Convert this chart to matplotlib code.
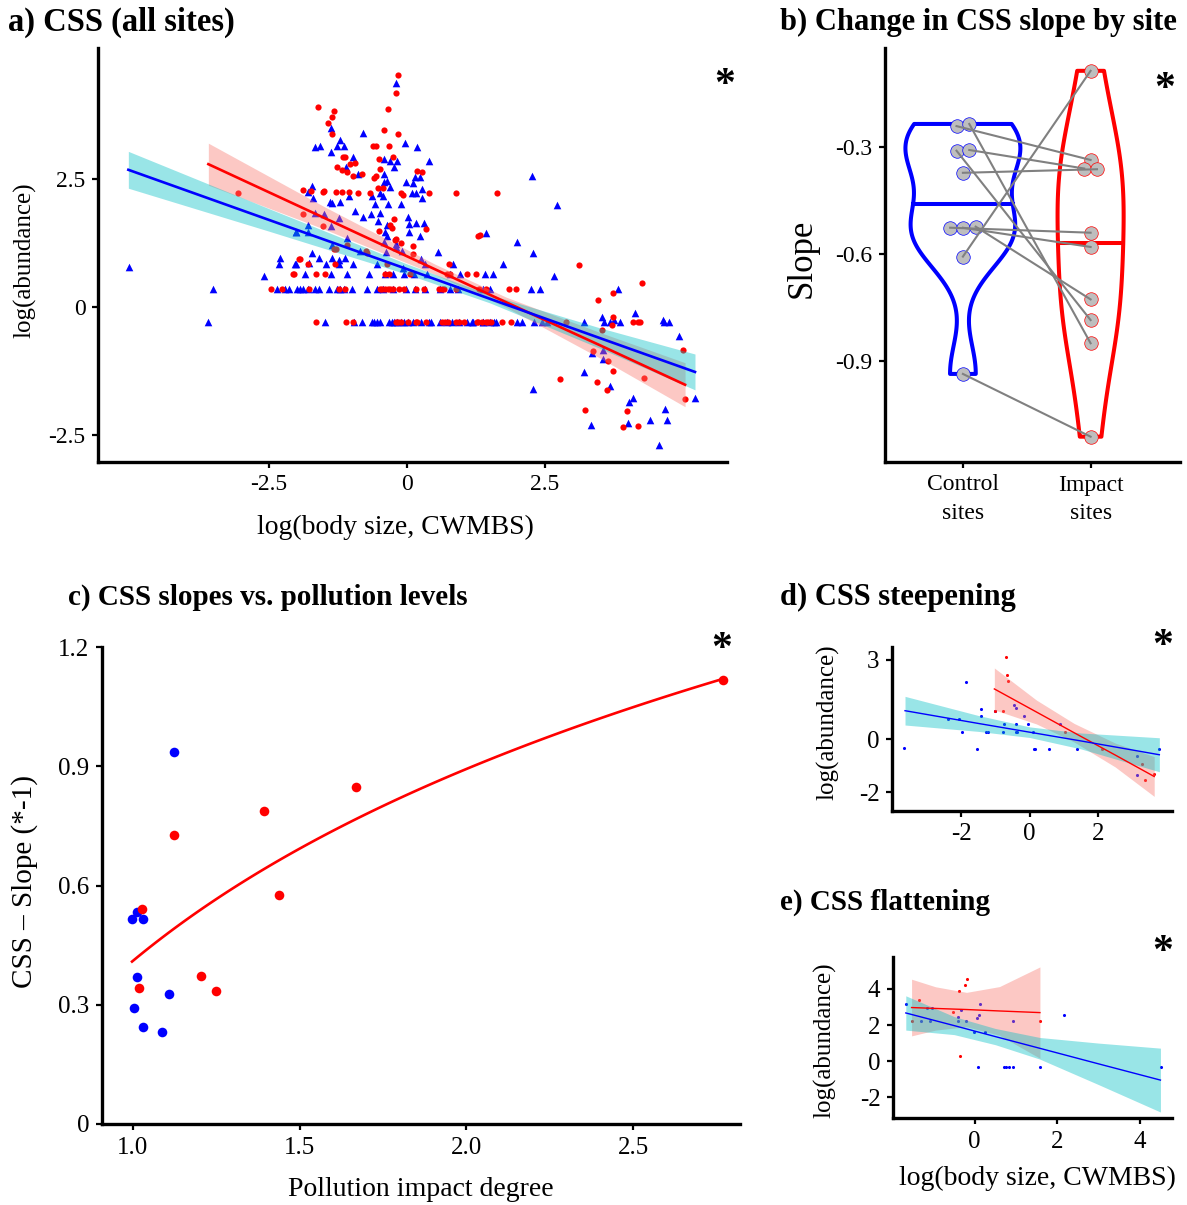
import numpy as np
import matplotlib
matplotlib.use("Agg")
import matplotlib.pyplot as plt

plt.rcParams['font.family'] = ['Liberation Serif', 'DejaVu Serif']
plt.rcParams['axes.unicode_minus'] = False

W, H = 1187, 1205

BLUE = '#0000FF'
RED = '#FF0000'
TEAL = '#00BFC4'
SALMON = '#F8766D'

# ---------------- panel a data (log body size, log abundance) ----------------
blue_pts = [(-5.04, 0.78), (-2.3, 0.96), (-2.32, 0.83), (-2.59, 0.61), (-2.02, 1.47), (-2.01, 0.83),
            (-0.19, 4.38), (-1.38, 3.5), (-0.8, 3.39), (-1.66, 3.13), (-1.58, 3.15), (-1.37, 3.03),
            (-1.21, 3.26), (-1.26, 3.14), (-1.15, 3.14), (-0.04, 3.2), (0.18, 3.12), (-0.98, 2.93),
            (-1.1, 2.73), (-0.89, 2.59), (-0.42, 2.89), (-0.31, 2.85), (-0.18, 2.85), (-0.23, 2.73),
            (0.4, 2.86), (-0.41, 2.59), (-0.36, 2.46), (-0.41, 2.45), (-0.31, 2.35), (0.14, 2.53),
            (0.24, 2.53), (0.11, 2.42), (-0.02, 2.44), (0.27, 2.3), (0.16, 2.23), (0.09, 2.23),
            (-1.72, 2.37), (-1.8, 2.24), (-1.39, 2.06), (-1.21, 2.06), (-1.36, 2.04), (-1.7, 2.12),
            (-1.05, 2.17), (-0.64, 2.17), (-0.58, 2.01), (-0.48, 2.23), (-0.44, 2.17), (-0.35, 2.01),
            (-0.1, 2.01), (0.27, 2.13), (0.01, 1.76), (-0.95, 1.87), (-0.8, 1.76), (-0.66, 1.82),
            (-0.49, 1.83), (-0.53, 1.68), (-0.36, 1.61), (-0.37, 1.39), (-0.4, 1.47), (0.04, 1.62),
            (0.16, 1.64), (0.3, 1.64), (0.04, 1.46), (0.24, 1.39), (-2.01, 1.46), (-1.8, 1.61),
            (-1.8, 1.46), (-1.66, 1.83), (-1.51, 1.81), (-1.23, 1.73), (-1.37, 1.58), (-1.35, 1.21),
            (-1.08, 1.34), (-0.86, 1.09), (-0.42, 1.26), (-0.38, 1.08), (-0.2, 1.23), (-0.19, 1.18),
            (-0.09, 1.09), (0.25, 0.93), (0.33, 0.84), (0.57, 1.08), (-0.08, 0.76), (-2.03, 0.83),
            (-1.73, 1.05), (-1.59, 0.95), (-1.77, 0.85), (-1.36, 0.95), (-1.24, 0.92), (-1.12, 0.95),
            (-1.47, 0.84), (-1.23, 0.84), (-0.97, 0.84), (-0.55, 0.84), (-1.85, 0.64), (-1.38, 0.64),
            (-1.09, 0.64), (-0.69, 0.64), (-0.4, 0.64), (-0.25, 0.64), (-0.05, 0.64), (0.13, 0.64),
            (0.36, 0.64), (0.78, 0.64), (0.96, 0.64), (1.41, 0.64), (1.55, 0.64), (0.84, 0.83),
            (2.26, 2.56), (2.72, 1.99), (1.43, 1.44), (2.0, 1.26), (2.28, 1.05), (1.74, 0.83),
            (2.67, 0.61), (4.14, -0.11), (3.53, -0.2), (3.75, -0.25), (4.64, -0.25), (4.93, -0.57),
            (3.56, -0.85), (3.56, -1.02), (3.36, -0.9), (3.21, -1.28), (2.29, -1.61), (3.68, -1.55),
            (4.02, -1.86), (4.09, -1.78), (4.68, -1.99), (5.22, -1.78), (3.33, -2.31), (4.01, -2.26),
            (4.41, -2.21), (4.72, -2.21), (4.57, -2.7)]
blue_row_hi_x = [-3.51, -2.36, -2.21, -2.13, -2.0, -1.94, -1.88, -1.79, -1.67, -1.59, -1.41, -1.26,
                 -1.21, -1.15, -1.0, -0.73, -0.55, -0.43, -0.25, -0.01, 0.14, 0.33, 0.59, 0.78, 0.93,
                 1.38, 1.5, 2.25, 2.41, 3.82]
blue_row_lo_x = [-3.61, -1.49, -0.96, -0.82, -0.64, -0.6, -0.55, -0.48, -0.32, -0.28, -0.24, -0.18,
                 -0.11, -0.05, 0.02, 0.1, 0.25, 0.39, 0.43, 0.6, 0.72, 0.82, 0.94, 1.08, 1.19, 1.38,
                 1.5, 1.58, 1.17, 1.37, 1.62, 1.99, 2.08, 2.31, 2.44, 2.53, 3.21, 3.57, 3.68, 3.86,
                 4.66, 4.75]
red_pts = [(-3.06, 2.23), (-2.05, 0.64), (-1.96, 0.94), (-0.16, 4.53), (-0.2, 4.19), (-0.35, 3.86),
           (-1.62, 3.91), (-1.32, 3.83), (-1.35, 3.71), (-1.44, 3.6), (-1.35, 3.38), (-0.41, 3.45),
           (-0.17, 3.38), (-0.62, 3.14), (-0.57, 3.14), (-0.33, 3.14), (-1.16, 2.93), (-1.12, 2.93),
           (-0.5, 2.9), (-0.25, 2.93), (-1.03, 2.79), (-0.94, 2.81), (-1.26, 2.73), (-1.18, 2.67),
           (-1.09, 2.64), (-0.97, 2.55), (-0.81, 2.59), (-0.49, 2.7), (0.19, 2.65), (0.28, 2.64),
           (-0.6, 2.51), (-0.56, 2.55), (-0.53, 2.32), (-0.43, 2.32), (-1.88, 2.29), (-1.74, 2.27),
           (-1.53, 2.24), (-1.5, 2.27), (-1.29, 2.24), (-1.18, 2.24), (-1.05, 2.24), (-0.88, 2.23),
           (-0.67, 2.23), (-0.11, 2.23), (-0.07, 2.19), (0.39, 2.23), (0.89, 2.23), (1.64, 2.23),
           (-0.24, 1.71), (-0.31, 1.6), (-0.28, 1.55), (0.34, 1.52), (1.29, 1.39), (1.33, 1.41),
           (-1.88, 1.82), (-1.52, 1.58), (-0.22, 1.31), (-0.19, 1.33), (-0.5, 1.48), (-0.1, 1.24),
           (0.11, 1.19), (-1.33, 1.13), (-1.29, 1.13), (-1.09, 1.21), (-0.74, 1.1), (-0.72, 1.06),
           (0.11, 1.04), (-1.94, 0.94), (-1.8, 0.84), (-1.3, 0.83), (-0.37, 0.84), (-2.06, 0.64),
           (-1.65, 0.64), (-1.48, 0.64), (-0.39, 0.64), (-0.32, 0.64), (0.05, 0.64), (0.76, 0.83),
           (0.72, 0.64), (0.78, 0.64), (1.08, 0.64), (1.25, 0.64), (3.12, 0.81), (4.26, 0.46),
           (3.74, 0.27), (3.47, 0.14), (3.73, -0.19), (3.71, -0.36), (3.54, -0.46), (5.0, -0.85),
           (3.38, -0.86), (3.65, -1.06), (3.73, -1.25), (2.78, -1.41), (3.44, -1.47), (3.62, -1.62),
           (4.29, -1.39), (5.04, -1.79), (3.22, -2.01), (3.99, -2.04), (3.91, -2.34), (4.18, -2.32)]
red_row_hi_x = [-2.47, -2.26, -1.77, -1.24, -1.12, -0.48, -0.45, -0.4, -0.35, -0.3, -0.25, -0.14,
                -0.05, 0.16, 0.3, 0.58, 0.63, 0.67, 0.89, 1.31, 1.44, 1.84, 1.97]
red_row_lo_x = [-1.65, -1.11, -0.97, -0.2, -0.16, -0.11, 0.02, 0.16, 0.19, 0.34, 0.63, 0.69, 0.75,
                0.88, 0.95, 1.04, 1.28, 1.36, 1.46, 1.53, 1.27, 1.44, 1.73, 1.88, 2.88, 4.1, 4.19, 4.23]
row_hi_y = 0.35
row_lo_y = -0.3

# fitted lines + confidence bands
a_blue_fit_x = [-5.05, -2.5, 0.0, 1.5, 3.5, 5.22]
a_blue_fit_y = [2.68, 1.70, 0.74, 0.16, -0.61, -1.27]
a_blue_ci = [0.36, 0.22, 0.10, 0.08, 0.20, 0.35]
a_red_fit_x = [-3.6, -1.5, 0.5, 1.8, 3.5, 5.04]
a_red_fit_y = [2.79, 1.74, 0.74, 0.09, -0.75, -1.52]
a_red_ci = [0.41, 0.22, 0.10, 0.10, 0.25, 0.43]

# ---------------- panel b data (slopes, paired control -> impact) ----------------
control_slopes = [-0.241, -0.235, -0.31, -0.308, -0.372, -0.526, -0.526, -0.523, -0.607, -0.936]
impact_slopes = [-0.336, -0.85, -0.785, -0.36, -0.362, -0.54, -0.58, -0.727, -0.086, -1.112]
site_labels = ['Control\nsites', 'Impact\nsites']

# ---------------- panel c data ----------------
ctrl_pollution = [1.013, 0.998, 1.03, 1.013, 1.004, 1.03, 1.089, 1.11, 1.123]
ctrl_css = [0.534, 0.515, 0.516, 0.37, 0.293, 0.245, 0.231, 0.326, 0.936]
imp_pollution = [1.027, 1.02, 1.124, 1.206, 1.25, 1.392, 1.438, 1.67, 2.77]
imp_css = [0.542, 0.343, 0.727, 0.373, 0.335, 0.788, 0.577, 0.849, 1.116]
curve_a, curve_b = 0.41, 0.697   # log fit: y = a + b*ln(x)

# ---------------- panel d data ----------------
d_blue_x = [-3.66, -1.85, -2.37, -2.06, -1.98, -1.54, -1.42, -1.42, -1.27, -1.22, -1.0, -0.76, -0.78,
            -0.47, -0.4, -0.4, -0.4, -0.36, -0.16, -0.05, 0.09, 0.13, 0.17, 0.58, 0.89, 1.38, 3.15,
            3.13, 3.79]
d_blue_y = [-0.34, 2.17, 0.77, 0.77, 0.29, -0.35, 1.13, 0.88, 0.29, 0.29, 1.07, 0.58, 0.29, 1.3,
            1.18, 0.58, 0.29, 0.29, 0.88, 0.58, 0.29, -0.35, -0.35, -0.35, 0.58, -0.35, -0.61, -1.36,
            -0.35]
d_red_x = [-0.68, -0.65, -0.63, -1.0, -0.78, 1.04, 2.11, 3.29, 3.37, 3.64]
d_red_y = [3.09, 2.42, 2.2, 1.07, 1.07, 0.29, -0.35, -0.92, -1.52, -1.3]
d_blue_fit_x = [-3.64, -1.5, 0.0, 1.5, 3.79]
d_blue_fit_y = [1.08, 0.60, 0.27, -0.06, -0.58]
d_blue_ci = [0.54, 0.30, 0.20, 0.30, 0.64]
d_red_fit_x = [-1.03, 0.2, 1.3, 2.5, 3.64]
d_red_fit_y = [1.90, 1.03, 0.25, -0.59, -1.40]
d_red_ci = [0.79, 0.45, 0.35, 0.45, 0.75]

# ---------------- panel e data ----------------
e_blue_x = [-1.67, -1.29, -1.09, -0.4, -0.4, -0.22, -1.15, -1.03, -0.33, -0.02, 0.05, 0.1, 0.13, 0.26,
            0.93, 2.17, 0.07, 0.7, 0.75, 0.83, 0.93, 1.58, 4.51]
e_blue_y = [3.14, 2.23, 2.23, 2.45, 2.23, 2.23, 2.92, 2.92, 2.82, 1.59, 2.4, 2.55, 3.14, 1.59,
            2.23, 2.55, -0.31, -0.31, -0.31, -0.31, -0.31, -0.31, -0.31]
e_red_x = [-1.53, -1.36, -0.53, -0.39, -0.23, -0.19, -0.36, 1.58]
e_red_y = [2.23, 3.39, 2.73, 3.89, 4.22, 4.55, 0.28, 2.23]
e_blue_fit_x = [-1.67, -0.5, 0.5, 1.58, 3.0, 4.5]
e_blue_fit_y = [2.67, 1.97, 1.36, 0.71, -0.15, -1.05]
e_blue_ci = [0.95, 0.50, 0.45, 0.60, 1.15, 1.77]
e_red_fit_x = [-1.53, -0.95, -0.2, 0.6, 1.58]
e_red_fit_y = [2.97, 2.92, 2.86, 2.78, 2.69]
e_red_ci = [1.57, 1.20, 0.95, 1.35, 2.53]


def add_ax(l, t, r, b):
    return fig.add_axes([l / W, 1 - b / H, (r - l) / W, (b - t) / H])


def style(ax, lsize=17):
    for s in ['top', 'right']:
        ax.spines[s].set_visible(False)
    for s in ['left', 'bottom']:
        ax.spines[s].set_linewidth(2.4)
        ax.spines[s].set_color('black')
    ax.tick_params(direction='out', length=4, width=1.6, labelsize=lsize, pad=5, colors='black')


def ftext(x, y, s, **kw):
    fig.text(x / W, 1 - y / H, s, **kw)


def smooth(ax, fx, fy, ci, band, line, lw):
    fx = np.array(fx)
    fy = np.array(fy)
    ci = np.array(ci)
    ax.fill_between(fx, fy - ci, fy + ci, color=band, alpha=0.4, lw=0, zorder=2)
    ax.plot(fx, fy, color=line, lw=lw, zorder=3)


fig = plt.figure(figsize=(W / 100, H / 100), dpi=100)
fig.patch.set_facecolor('white')

# ---------------- a ----------------
ax = add_ax(98, 48, 727, 462)
style(ax)
bx, by = zip(*blue_pts)
rx, ry = zip(*red_pts)
ax.scatter(bx, by, marker='^', s=30, color=BLUE, lw=0, zorder=1)
ax.scatter(blue_row_hi_x, [row_hi_y] * len(blue_row_hi_x), marker='^', s=30, color=BLUE, lw=0, zorder=1)
ax.scatter(blue_row_lo_x, [row_lo_y] * len(blue_row_lo_x), marker='^', s=30, color=BLUE, lw=0, zorder=1)
ax.scatter(rx, ry, marker='o', s=20, color=RED, lw=0, zorder=1)
ax.scatter(red_row_hi_x, [row_hi_y] * len(red_row_hi_x), marker='o', s=20, color=RED, lw=0, zorder=1)
ax.scatter(red_row_lo_x, [row_lo_y] * len(red_row_lo_x), marker='o', s=20, color=RED, lw=0, zorder=1)
smooth(ax, a_red_fit_x, a_red_fit_y, a_red_ci, SALMON, RED, 1.9)
smooth(ax, a_blue_fit_x, a_blue_fit_y, a_blue_ci, TEAL, BLUE, 1.9)
ax.set_xlim(-5.6, 5.8)
ax.set_ylim(-3.03, 5.06)
ax.set_xticks([-2.5, 0, 2.5])
ax.set_xticklabels(['-2.5', '0', '2.5'])
ax.set_yticks([-2.5, 0, 2.5])
ax.set_yticklabels(['-2.5', '0', '2.5'])
ftext(25, 260, 'log(abundance)', rotation=90, ha='center', va='center', fontsize=18)
ftext(395, 527, 'log(body size, CWMBS)', ha='center', va='center', fontsize=20)

# ---------------- b ----------------
ax = add_ax(885, 48, 1180, 462)
style(ax)
groups = [np.array(control_slopes), np.array(impact_slopes)]
cols = [BLUE, RED]


def nrd0(v):
    sd = np.std(v, ddof=1)
    q75, q25 = np.percentile(v, [75, 25])
    return 0.9 * min(sd, (q75 - q25) / 1.34) * len(v) ** -0.2


dens = []
for v in groups:
    ys = np.linspace(v.min(), v.max(), 300)
    bw = nrd0(v)
    d = np.exp(-0.5 * ((ys[:, None] - v[None, :]) / bw) ** 2).sum(1) / (len(v) * bw * np.sqrt(2 * np.pi))
    dens.append((ys, d))
dmax = max(d.max() for _, d in dens)
for i, (ys, d) in enumerate(dens):
    pos = i + 1
    hw = 0.45 * d / dmax
    px = np.concatenate([pos - hw, (pos + hw)[::-1], [pos - hw[0]]])
    py = np.concatenate([ys, ys[::-1], [ys[0]]])
    ax.fill(px, py, facecolor='white', edgecolor=cols[i], lw=2.9, zorder=1, joinstyle='round')
    # median from the density, as the violin quantile line does
    cdf = np.cumsum(d)
    cdf = cdf / cdf[-1]
    med = np.interp(0.5, cdf, ys)
    mw = 0.45 * np.interp(med, ys, d) / dmax
    ax.plot([pos - mw, pos + mw], [med, med], color=cols[i], lw=2.9, zorder=1)


def dodge(v, gap=0.1):
    v = np.asarray(v)
    off = np.zeros(len(v))
    used = np.zeros(len(v), bool)
    for i in range(len(v)):
        if used[i]:
            continue
        idx = [j for j in range(len(v)) if not used[j] and abs(v[j] - v[i]) < 0.012]
        for k, j in enumerate(idx):
            off[j] = (k - (len(idx) - 1) / 2) * gap
            used[j] = True
    return off


cx = 1 + dodge(control_slopes)
ix = 2 + dodge(impact_slopes)
ax.scatter(cx, control_slopes, s=95, facecolor='#BEBEBE', edgecolor=BLUE, lw=0.5, zorder=2)
ax.scatter(ix, impact_slopes, s=95, facecolor='#BEBEBE', edgecolor=RED, lw=0.5, zorder=2)
for c0, c1, v0, v1 in zip(cx, ix, control_slopes, impact_slopes):
    ax.plot([c0, c1], [v0, v1], color='#808080', lw=1.5, zorder=3)
ax.set_xlim(0.39, 2.7)
ax.set_ylim(-1.183, -0.022)
ax.set_xticks([1, 2])
ax.set_xticklabels(site_labels, linespacing=1.45)
ax.set_yticks([-0.9, -0.6, -0.3])
ax.set_yticklabels(['-0.9', '-0.6', '-0.3'])
ftext(802, 258, 'Slope', rotation=90, ha='center', va='center', fontsize=25)

# ---------------- c ----------------
ax = add_ax(102, 647, 740, 1124)
style(ax, 18)
xc = np.linspace(min(imp_pollution + ctrl_pollution), max(imp_pollution), 100)
ax.plot(xc, curve_a + curve_b * np.log(xc), color=RED, lw=1.9, zorder=2)
ax.scatter(ctrl_pollution, ctrl_css, s=48, color=BLUE, lw=0, zorder=3)
ax.scatter(imp_pollution, imp_css, s=48, color=RED, lw=0, zorder=3)
ax.set_xlim(0.908, 2.82)
ax.set_ylim(0, 1.2)
ax.set_xticks([1.0, 1.5, 2.0, 2.5])
ax.set_xticklabels(['1.0', '1.5', '2.0', '2.5'])
ax.set_yticks([0, 0.3, 0.6, 0.9, 1.2])
ax.set_yticklabels(['0', '0.3', '0.6', '0.9', '1.2'])
ftext(25, 882, 'CSS \u2013 Slope (*-1)', rotation=90, ha='center', va='center', fontsize=21)
ftext(421, 1190, 'Pollution impact degree', ha='center', va='center', fontsize=20)

# ---------------- d ----------------
ax = add_ax(892, 647, 1172, 811)
style(ax, 18)
ax.scatter(d_blue_x, d_blue_y, s=5, color=BLUE, lw=0, zorder=1)
ax.scatter(d_red_x, d_red_y, s=5, color=RED, lw=0, zorder=1)
smooth(ax, d_red_fit_x, d_red_fit_y, d_red_ci, SALMON, RED, 1.0)
smooth(ax, d_blue_fit_x, d_blue_fit_y, d_blue_ci, TEAL, BLUE, 1.0)
ax.set_xlim(-4.02, 4.16)
ax.set_ylim(-2.7, 3.48)
ax.set_xticks([-2, 0, 2])
ax.set_xticklabels(['-2', '0', '2'])
ax.set_yticks([-2, 0, 3])
ax.set_yticklabels(['-2', '0', '3'])
ftext(828, 722, 'log(abundance)', rotation=90, ha='center', va='center', fontsize=18)

# ---------------- e ----------------
ax = add_ax(893, 957, 1172, 1118)
style(ax, 18)
ax.scatter(e_blue_x, e_blue_y, s=5, color=BLUE, lw=0, zorder=1)
ax.scatter(e_red_x, e_red_y, s=5, color=RED, lw=0, zorder=1)
smooth(ax, e_red_fit_x, e_red_fit_y, e_red_ci, SALMON, RED, 1.0)
smooth(ax, e_blue_fit_x, e_blue_fit_y, e_blue_ci, TEAL, BLUE, 1.0)
ax.set_xlim(-1.98, 4.78)
ax.set_ylim(-3.15, 5.77)
ax.set_xticks([0, 2, 4])
ax.set_yticks([-2, 0, 2, 4])
ax.set_yticklabels(['-2', '0', '2', '4'])
ftext(825, 1040, 'log(abundance)', rotation=90, ha='center', va='center', fontsize=18)
ftext(1037, 1178, 'log(body size, CWMBS)', ha='center', va='center', fontsize=20)

# ---------------- titles and asterisks ----------------
tkw = dict(fontweight='bold', ha='left', va='center')
ftext(8, 22, 'a) CSS (all sites)', fontsize=23.5, **tkw)
ftext(780, 22, 'b) Change in CSS slope by site', fontsize=22, **tkw)
ftext(68, 597, 'c) CSS slopes vs. pollution levels', fontsize=21, **tkw)
ftext(780, 597, 'd) CSS steepening', fontsize=22, **tkw)
ftext(780, 902, 'e) CSS flattening', fontsize=21, **tkw)
akw = dict(fontsize=30, fontweight='bold', ha='center', va='center')
for xa, ya in [(725, 86), (1165, 90), (722, 650), (1163, 647), (1163, 953)]:
    ftext(xa, ya, '*', **akw)

fig.savefig('out.png', dpi=100, facecolor='white')
